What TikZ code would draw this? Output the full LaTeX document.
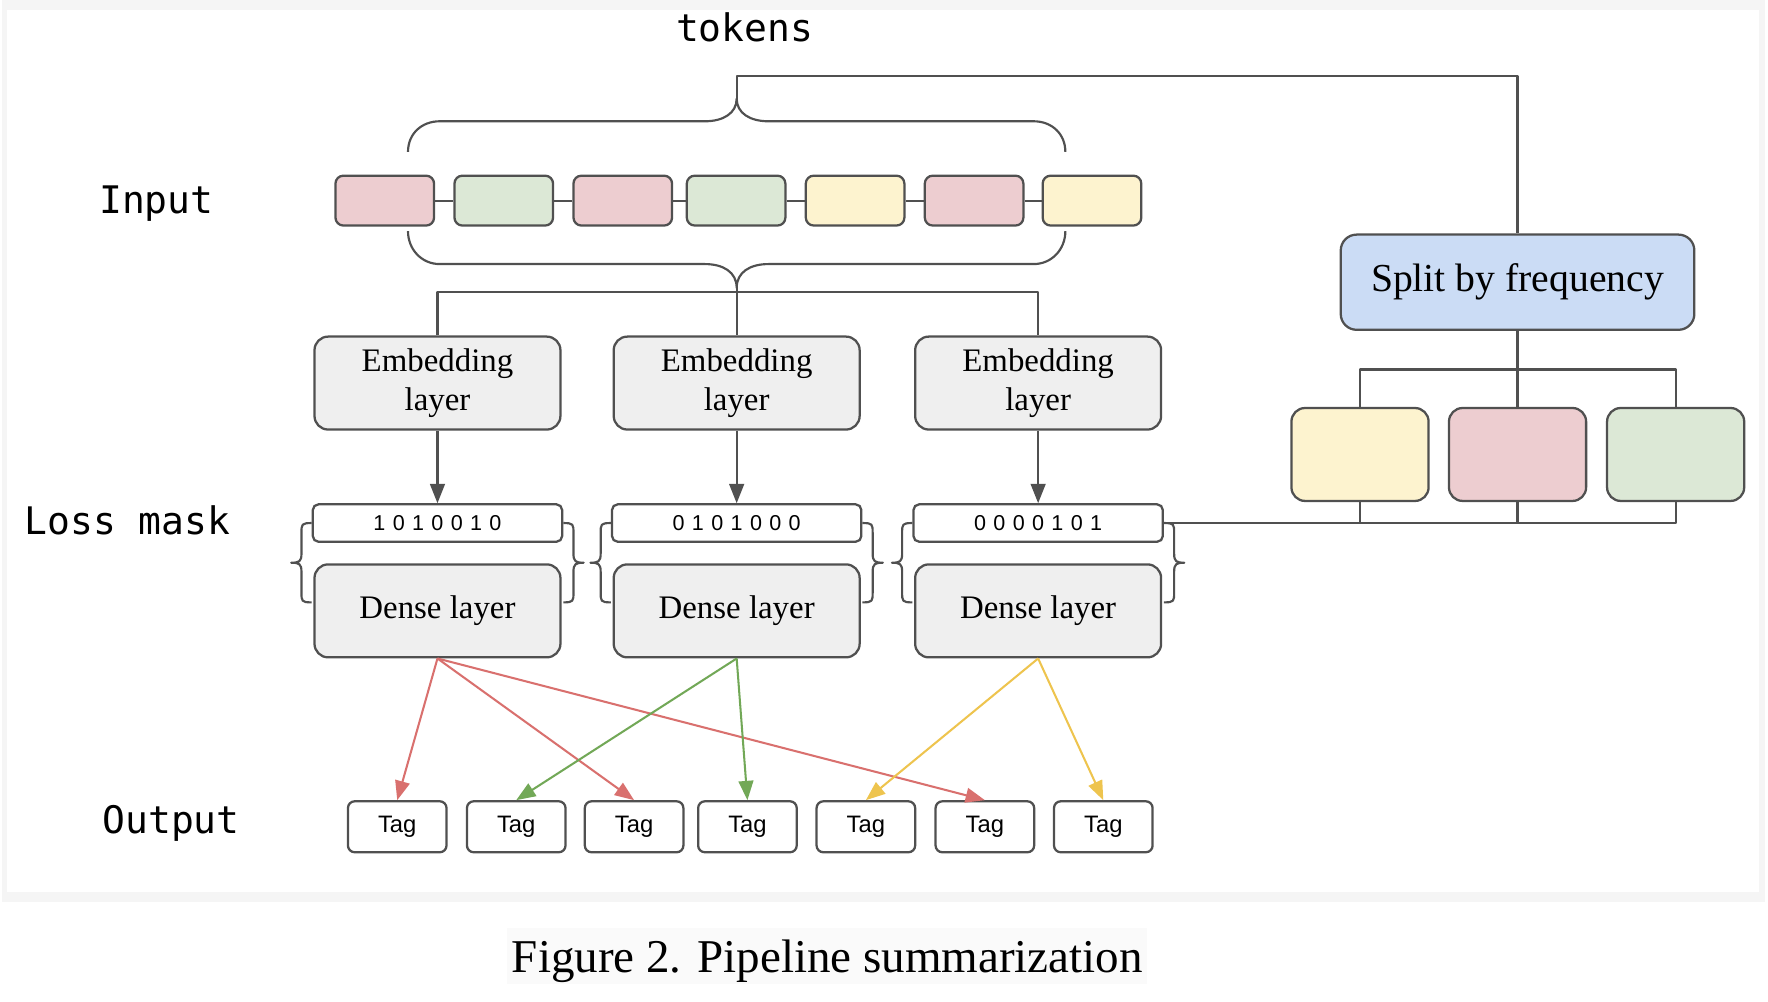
\documentclass[tikz,border=0pt]{standalone}
\usepackage{fontspec}
\setmainfont{Liberation Serif}
\newfontfamily\monof{DejaVu Sans Mono}
\newfontfamily\sansf{Liberation Sans}
\usetikzlibrary{arrows.meta}
\definecolor{cpink}{HTML}{EDCDD0}
\definecolor{cgreen}{HTML}{DCE8D6}
\definecolor{cyellow}{HTML}{FDF3CF}
\definecolor{cblue}{HTML}{CBDCF5}
\definecolor{cgray}{HTML}{EFEFEF}
\definecolor{cline}{HTML}{505050}
\definecolor{ared}{HTML}{D9706E}
\definecolor{agreen}{HTML}{72A857}
\definecolor{ayellow}{HTML}{EEC44E}
\definecolor{framegray}{HTML}{F5F5F5}
\definecolor{capbg}{HTML}{FAFAFA}
\newcommand{\mk}{\hspace{6.5pt}}
\begin{document}
\begin{tikzpicture}[x=1pt,y=-1pt,
  box/.style={draw=cline, line width=2pt, rounded corners=#1, inner sep=0pt, align=center},
  box/.default=8pt,
  conn/.style={draw=cline, line width=1.9pt, line join=round},
  garrow/.style={draw=cline, line width=1.9pt, -{Triangle[width=13pt,length=17pt]}, cline},
  carrow/.style={line width=1.8pt, -{Triangle[width=13pt,length=17pt]}, draw=#1, fill=#1},
  tok/.style={box=7pt, minimum width=87pt, minimum height=44pt},
  layerbox/.style={box=12pt, fill=cgray, minimum width=217pt, minimum height=82pt,
     font=\fontsize{29}{34}\selectfont},
  maskbox/.style={box=5pt, fill=white, minimum width=220pt, minimum height=33pt,
     font=\sansf\fontsize{19}{22}\selectfont},
  tagbox/.style={box=6pt, fill=white, minimum width=87pt, minimum height=45pt,
     font=\sansf\fontsize{21}{24}\selectfont},
  fbox/.style={box=12pt, minimum width=121pt, minimum height=82pt},
  rowlabel/.style={anchor=base, font=\monof\fontsize{33.5}{38}\selectfont},
]
\useasboundingbox (0,0) rectangle (1560,884);
% faint frame of the figure
\fill[framegray] (2,0) rectangle (1557,796);
\fill[white] (6,9) rectangle (1552,787);

% row labels
\node[rowlabel] (ltok) at (657,37) {tokens};
\node[rowlabel] (lin) at (138,188) {Input};
\node[rowlabel] (lmask) at (112.5,472) {Loss mask};
\node[rowlabel] (lout) at (151,735) {Output};

% input tokens
\node[tok, fill=cpink]   (in1) at (339.5,177) {};
\node[tok, fill=cgreen]  (in2) at (444.5,177) {};
\node[tok, fill=cpink]   (in3) at (549.5,177) {};
\node[tok, fill=cgreen]  (in4) at (649.5,177) {};
\node[tok, fill=cyellow] (in5) at (754.5,177) {};
\node[tok, fill=cpink]   (in6) at (859.5,177) {};
\node[tok, fill=cyellow] (in7) at (963.5,177) {};
\foreach \a/\b in {in1/in2,in2/in3,in3/in4,in4/in5,in5/in6,in6/in7}
  \draw[conn] (\a.east) -- (\b.west);

% top brace
\draw[conn] (360,134) .. controls (360,118) and (372,107) .. (388,107) -- (622,107)
  .. controls (638,107) and (650,100) .. (650,87)
  .. controls (650,100) and (662,107) .. (678,107) -- (912,107)
  .. controls (928,107) and (940,118) .. (940,134);
\coordinate (ttip) at (650,87);
\coordinate (ttop) at (650,67);

% bottom brace
\draw[conn] (360,204) .. controls (360,220) and (372,233) .. (388,233) -- (622,233)
  .. controls (638,233) and (650,240) .. (650,254)
  .. controls (650,240) and (662,233) .. (678,233) -- (912,233)
  .. controls (928,233) and (940,220) .. (940,204);
\coordinate (btip) at (650,254);
\coordinate (bh) at (650,258);

% embedding layers
\node[layerbox] (emb1) at (386,338) {Embedding\\layer};
\node[layerbox] (emb2) at (650,338) {Embedding\\layer};
\node[layerbox] (emb3) at (916,338) {Embedding\\layer};
\draw[conn] (btip) -- (emb2.north);
\draw[conn] (emb1.north) |- (bh) -| (emb3.north);

% loss masks
\node[maskbox] (mask1) at (386,461.5) {1\mk0\mk1\mk0\mk0\mk1\mk0};
\node[maskbox] (mask2) at (650,461.5) {0\mk1\mk0\mk1\mk0\mk0\mk0};
\node[maskbox] (mask3) at (916,461.5) {0\mk0\mk0\mk0\mk1\mk0\mk1};
\foreach \i in {1,2,3} \draw[garrow] (emb\i) -- (mask\i);

% dense layers
\node[layerbox] (den1) at (386,539) {Dense layer};
\node[layerbox] (den2) at (650,539) {Dense layer};
\node[layerbox] (den3) at (916,539) {Dense layer};

% braces around mask + dense
\foreach \i in {1,2,3} {
  \draw[conn] (mask\i.west) .. controls +(-9,0) and +(0,-8) .. ++(-9,9) -- ++(0,18)
    .. controls +(0,7) and +(7,0) .. ++(-9,8)
    .. controls +(7,0) and +(0,-7) .. ++(9,8) -- ++(0,18)
    .. controls +(0,8) and +(-9,0) .. ++(9,9);
  \draw[conn] (mask\i.east) .. controls +(9,0) and +(0,-8) .. ++(9,9) -- ++(0,18)
    .. controls +(0,7) and +(-7,0) .. ++(9,8)
    .. controls +(-7,0) and +(0,-7) .. ++(-9,8) -- ++(0,18)
    .. controls +(0,8) and +(9,0) .. ++(-9,9);
}

% split by frequency
\node[box=14pt, fill=cblue, minimum width=312pt, minimum height=84pt,
  font=\fontsize{35}{40}\selectfont] (split) at (1339,249) {Split by frequency};
\draw[conn] (ttip) -- (ttop) -| (split.north);
\node[fbox, fill=cyellow] (fb1) at (1200,401) {};
\node[fbox, fill=cpink]   (fb2) at (1339,401) {};
\node[fbox, fill=cgreen]  (fb3) at (1478.5,401) {};
\coordinate (sj) at (1339,326);
\draw[conn] (split.south) -- (sj) -- (fb2.north);
\draw[conn] (fb1.north) |- (sj) -| (fb3.north);
\draw[conn] (mask3.east) -| (fb3.south);
\draw[conn] (fb1.south) -- (fb1.south |- mask3.east);
\draw[conn] (fb2.south) -- (fb2.south |- mask3.east);

% output tags
\node[tagbox] (t1) at (350.5,729.5) {Tag};
\node[tagbox] (t2) at (455.5,729.5) {Tag};
\node[tagbox] (t3) at (559.5,729.5) {Tag};
\node[tagbox] (t4) at (659.5,729.5) {Tag};
\node[tagbox] (t5) at (764,729.5) {Tag};
\node[tagbox] (t6) at (869,729.5) {Tag};
\node[tagbox] (t7) at (973.5,729.5) {Tag};

% coloured arrows
\draw[carrow=ared] (den1.south) -- (t1.north);
\draw[carrow=ared] (den1.south) -- (t3.north);
\draw[carrow=ared] (den1.south) -- (t6.north);
\draw[carrow=agreen] (den2.south) -- (t2.north);
\draw[carrow=agreen] (den2.south) -- (t4.north);
\draw[carrow=ayellow] (den3.south) -- (t5.north);
\draw[carrow=ayellow] (den3.south) -- (t7.north);

% caption
\fill[capbg] (447,819) rectangle (1012,868);
\node[anchor=base, inner sep=0pt, font=\fontsize{41.5}{48}\selectfont] (cap) at (730,858)
  {Figure 2. Pipeline summarization};
\end{tikzpicture}
\end{document}
